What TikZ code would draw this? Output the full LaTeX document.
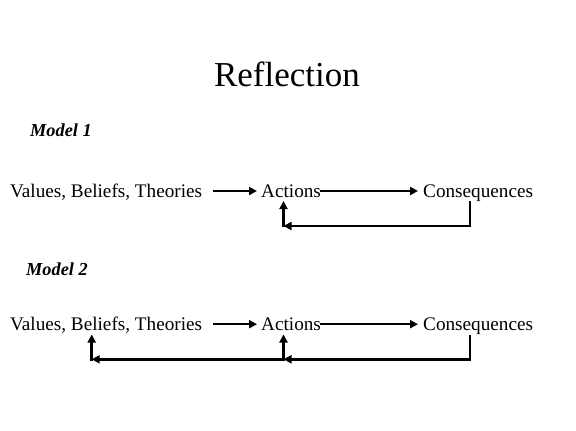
\documentclass[tikz,border=0pt]{standalone}
\usepackage{fontspec}
\setmainfont{Liberation Serif}
\usetikzlibrary{arrows.meta,calc}
\tikzset{
  lbl/.style={inner sep=0pt, anchor=base west, font=\fontsize{19.2}{22}\selectfont},
  mdl/.style={inner sep=0pt, anchor=base west, font=\fontsize{18.3}{21}\selectfont\bfseries\itshape},
  conn/.style={line width=2.5pt, -{Triangle[length=8pt,width=8pt]}},
  plain/.style={line width=2.5pt}
}
\begin{document}
\begin{tikzpicture}[x=1pt,y=-1pt]
\useasboundingbox (0,0) rectangle (576,431);
\node[inner sep=0pt, anchor=base, font=\fontsize{35}{40}\selectfont] (title) at (287,86) {Reflection};
\node[mdl] (m1) at (30,136) {Model 1};
\node[mdl] (m2) at (26,275) {Model 2};
% Model 1
\node[lbl] (v1) at (10,197.5) {Values, Beliefs, Theories};
\node[lbl] (a1) at (261,197.5) {Actions};
\node[lbl] (c1) at (423,197.5) {Consequences};
\coordinate (a1in) at (213,191);
\coordinate (a1tip) at (257,191);
\draw[conn] (a1in) -- (a1tip);
\draw[conn] (320,191) -- (418,191);
\coordinate (c1out) at (470,201);
\coordinate (a1fb) at (283.5,201);
\coordinate (k1) at (283.5,226);
\draw[plain] (c1out) -- (470,226);
\draw[conn] (471.2,226) -- (k1);
\draw[conn] (283.5,227.2) -- (a1fb);
% Model 2
\node[lbl] (v2) at (10,330.7) {Values, Beliefs, Theories};
\node[lbl] (a2) at (261,330.7) {Actions};
\node[lbl] (c2) at (423,330.7) {Consequences};
\draw[conn] (213,324.2) -- (257,324.2);
\draw[conn] (320,324.2) -- (418,324.2);
\coordinate (c2out) at (470,334.5);
\coordinate (k2) at (283.5,359.3);
\coordinate (a2fb) at (283.5,334.5);
\coordinate (k3) at (91.7,359.3);
\coordinate (v2fb) at (91.7,334.5);
\draw[plain] (c2out) -- (470,359.3);
\draw[conn] (471.2,359.3) -- (k2);
\draw[conn] (283.5,360.5) -- (a2fb);
\draw[conn] (k2) -- (k3);
\draw[conn] (91.7,360.5) -- (v2fb);
\end{tikzpicture}
\end{document}
